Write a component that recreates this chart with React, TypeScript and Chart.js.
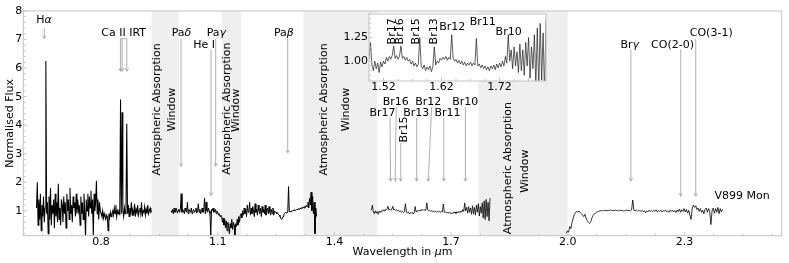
import React, { useEffect, useRef } from "react";
import { Chart, registerables } from "chart.js";
Chart.register(...registerables);

const FONT = "'DejaVu Sans', sans-serif";
const FRAME = "#c4c4c4";
const ARROW = "#a8a8a8";
const WINDOW_FILL = "#efefef";

// ---- Spectrum segments (start wavelength, sampling step, normalised flux) ----
const segAStart = 0.634;
const segAStep = 0.002;
const segAFlux = [
  1.1, 2.0, 0.5, 1.4, 0.7, 1.6, 0.3, 1.2, 0.8, 1.5, 0.6, 1.1,
  6.25,
  0.9, 1.3, 0.2, 1.5, 0.7, 1.8, 0.5, 1.2, 0.9, 1.4, 0.4, 1.6, 0.8, 1.3, 0.6, 1.95, 0.7, 1.1, 0.5, 1.4,
  1.2, 0.6, 1.5, 0.9, 1.3, 0.4, 1.6, 1.0, 1.4, 0.7, 1.8, 0.9, 1.2, 0.6, 1.5, 1.1, 1.3, 0.8, 1.6, 0.9,
  1.4, 1.0, 1.2, 0.5, 1.5, 0.9, 1.3, 0.7, 1.6, 1.0,
  0.05, 1.4, 1.0, 1.6, 0.8, 1.5, 1.1, 1.7, 0.9, 1.4, 0.1, 1.6, 1.0, 1.3, 2.05, 0.9, 1.4, 0.7, 1.3, 1.0,
  0.9, 0.8, 1.0, 0.75, 0.9, 0.8, 0.7, 0.85, 0.8, 0.3, 0.9, 0.75, 0.95, 0.8, 0.9,
  1.0, 0.85, 1.1, 0.9, 1.2, 0.8, 1.0, 0.9, 1.05, 0.85,
  4.9, 0.9, 4.45, 1.0, 0.8, 1.1, 0.9, 1.0, 4.05,
  0.9, 1.2, 0.8, 1.1, 0.95, 1.3, 0.85, 1.0, 0.9, 1.25, 0.8, 1.05, 0.95, 1.2, 0.85, 1.0,
  1.1, 0.9, 1.3, 0.8, 1.0, 0.95, 1.15, 0.85, 1.05, 0.9, 1.2, 0.9, 1.0, 1.1, 0.95, 1.0,
];

const segBStart = 0.98;
const segBStep = 0.002;
const segBFlux = [
  1.0, 0.95, 1.05, 0.9, 1.1, 0.95, 1.0, 1.08, 0.92, 1.0,
  1.05, 0.95, 1.1,
  1.6,
  0.95, 1.05, 1.0, 0.9, 1.1, 1.0, 0.95, 1.3, 0.9, 1.05, 1.0, 0.95, 1.1, 0.9, 1.0, 1.05, 0.95, 1.0, 1.1, 0.92,
  1.0, 1.25, 0.95, 1.05, 0.9, 1.0, 1.1, 0.95, 1.0, 1.45, 0.9, 1.3, 1.0, 0.95, 1.1, 1.0, 0.9,
  0.15,
  1.05, 1.0, 1.1, 0.95, 1.0, 1.05, 0.9, 1.0, 0.95, 0.85, 0.9, 0.8, 0.85,
  0.8, 0.6, 0.75, 0.5, 0.7, 0.4, 0.65, 0.3, 0.6, 0.45, 0.2, 0.55, 0.4, 0.7, 0.35, 0.6, 0.5, 0.15, 0.55, 0.45,
  0.7, 0.5, 0.8, 0.6, 0.85,
  0.9, 0.75, 1.0, 0.85, 1.1, 0.9, 1.05, 0.8, 1.2, 0.95, 1.0, 1.3, 0.85, 1.1, 0.9, 1.15, 1.0, 0.8, 1.25, 0.95,
  1.05, 0.85, 1.2, 1.0, 0.9, 1.1, 0.8, 1.15, 0.95, 1.05, 0.9, 1.2, 0.85, 1.0, 1.1, 0.9, 1.15, 0.95, 0.85, 1.05,
  0.9, 1.1, 0.85, 1.0, 0.95,
  0.95, 0.9, 0.92, 0.88, 0.85, 0.8, 0.75,
  0.7, 0.72, 0.8, 0.88, 0.92, 0.95, 0.93, 0.96, 0.95,
  1.85,
  0.97, 0.98, 0.96, 1.0, 0.99, 1.02, 1.0, 1.04, 1.01, 1.03, 1.06, 1.04, 1.08, 1.05, 1.1, 1.07, 1.12, 1.09,
  1.14, 1.1, 1.16, 1.12, 1.2, 1.15,
  1.3, 1.1, 1.45, 1.2, 1.65, 1.0, 1.5, 0.9, 1.3, 0.2, 1.1, 0.8,
];

const segCStart = 1.495;
const segCStep = 0.0025;
const segCFlux = [
  1.02, 1.2, 0.96, 0.9, 1.0, 0.92, 0.98, 0.88, 0.99, 0.94,
  1.0, 0.97, 1.04, 1.0, 1.05, 1.02, 1.06, 1.16, 1.03, 1.06,
  1.02, 1.05, 1.16, 1.03, 1.05, 1.01, 1.04, 1.0, 1.02, 0.97,
  1.0, 0.95, 0.98, 0.94, 0.97, 1.25, 0.95, 0.92, 0.96, 0.9,
  0.94, 0.91, 0.95, 0.89, 0.94, 1.15, 0.96, 1.0, 0.98, 1.03,
  1.01, 1.04, 1.02, 1.05, 1.01, 1.04, 1.02, 1.28, 1.03, 1.0,
  1.02, 0.98, 1.01, 0.97, 1.0, 0.96, 0.99, 0.95, 0.98, 0.96,
  0.99, 0.95, 0.98, 0.96, 1.24, 0.95, 0.97, 0.93, 0.96, 0.92,
  0.95, 0.91, 0.94, 0.9, 0.95, 0.92, 0.96, 0.91, 0.97, 0.93,
  0.98, 0.94, 1.0, 0.95, 1.05, 0.98, 1.28, 1.0, 1.12, 0.92,
  1.15, 0.95, 1.1, 0.88, 1.18, 0.9, 1.12, 0.85, 1.2, 0.95,
  1.25, 0.82, 1.15, 0.92, 1.28, 0.75, 1.35, 0.7, 1.4, 0.8,
  1.3, 0.65, 1.45,
];

const segDStart = 1.996;
const segDStep = 0.003;
const segDFlux = [
  0.22, 0.3, 0.25, 0.45, 0.38, 0.6, 0.75, 0.88, 0.95, 0.98,
  0.96, 0.99, 0.95, 0.9, 0.85, 0.8, 0.88, 0.75, 0.65, 0.6,
  0.56, 0.62, 0.75, 0.84, 0.9, 0.92, 0.95, 0.97, 0.99, 1.0,
  1.01, 1.0, 1.02, 1.01, 1.02, 1.0, 1.02, 1.01, 1.03, 1.01,
  1.02, 1.0, 1.03, 1.01, 1.02, 1.0, 1.03, 1.01, 1.02, 0.99,
  1.02, 1.0, 1.03, 1.01, 1.02, 1.0, 1.03, 1.38, 1.02, 1.0,
  1.03, 0.99, 1.02, 1.0, 0.98, 1.02, 0.97, 1.01, 0.93, 1.0,
  0.96, 1.02, 0.98, 1.01, 0.97, 1.02, 0.99, 1.03, 0.97, 1.01,
  0.98, 1.02, 0.96, 1.01, 0.99, 1.03, 0.97, 1.0, 0.95, 1.02,
  0.98, 1.03, 0.96, 1.01, 0.94, 1.03, 0.97, 1.06, 0.95, 1.04,
  0.98, 1.08, 0.96, 1.05, 0.92, 1.02, 0.85, 0.7, 1.1, 1.2,
  1.12, 1.18, 1.05, 1.1, 0.98, 1.08, 0.95, 1.02, 0.9, 1.05,
  1.1, 0.95, 1.08, 0.98, 0.52, 1.0, 1.1, 0.92, 1.08, 0.95,
  1.12, 0.9, 1.08, 0.96, 1.06,
];
const segWidths = [1.05, 1.0, 0.8, 0.8];

// ---- Axes ----
const xMin = 0.6, xMax = 2.55, yMin = 0.13, yMax = 8;
const xTicks = [0.8, 1.1, 1.4, 1.7, 2.0, 2.3];
const yTicks = [1, 2, 3, 4, 5, 6, 7, 8];
const insetXMin = 1.495, insetXMax = 1.8, insetYMin = 0.79, insetYMax = 1.5;
const insetXTicks = [1.52, 1.62, 1.72];
const insetYTicks = [1.0, 1.25];

// ---- Atmospheric absorption windows ----
const windowStart = [0.93, 1.11, 1.32, 1.77];
const windowEnd = [1.0, 1.16, 1.51, 2.0];
const windowLine1X = [0.945, 1.125, 1.3745, 1.8476];
const windowLine2X = [0.9825, 1.1485, 1.4305, 1.8915];
const windowLine1Y = [4.55, 4.58, 4.55, 2.5];
const windowLine2Y = [4.55, 4.52, 4.55, 2.39];

// ---- Line labels (main panel) ----
const labelText = ["H$α$", "Ca II IRT", "Pa$δ$", "He I", "Pa$γ$", "Pa$β$", "Br$γ$", "CO(2-0)", "CO(3-1)", "V899 Mon",
  "Br16", "Br17", "Br13", "Br12", "Br11", "Br10"];
const labelX = [0.6535, 0.858, 1.0067, 1.065, 1.0963, 1.2699, 2.1595, 2.2693, 2.3688, 2.448,
  1.5577, 1.5236, 1.6103, 1.6414, 1.6908, 1.7363];
const labelY = [7.59, 7.12, 7.12, 6.71, 7.12, 7.12, 6.71, 6.71, 7.12, 1.42,
  4.72, 4.315, 4.315, 4.72, 4.315, 4.72];
const rotLabelText = ["Br15"];
const rotLabelX = [1.5789];
const rotLabelY = [3.85];

// arrows: from (x0,y0) to tip (x1,y1)
const arrowX0 = [0.654, 0.8498, 0.8542, 0.8662, 1.0055, 1.0827, 1.0947, 1.2799, 2.1622, 2.2904, 2.329,
  1.543, 1.559, 1.5705, 1.6114, 1.65, 1.6811, 1.7367];
const arrowY0 = [7.41, 7.03, 7.03, 7.03, 7.03, 6.65, 7.03, 7.03, 6.65, 6.65, 7.03,
  4.26, 4.64, 3.38, 4.26, 4.64, 4.26, 4.64];
const arrowX1 = [0.654, 0.8498, 0.8542, 0.8662, 1.0055, 1.0827, 1.0947, 1.2799, 2.1622, 2.2904, 2.329,
  1.5443, 1.5561, 1.5705, 1.6114, 1.6412, 1.6811, 1.7367];
const arrowY1 = [7.03, 5.89, 5.89, 5.89, 2.56, 1.54, 2.56, 3.03, 2.04, 1.51, 1.51,
  2.04, 2.04, 2.04, 2.04, 2.04, 2.04, 2.04];

// ---- Inset labels ----
const insetRotText = ["Br17", "Br16", "Br15", "Br13"];
const insetRotX = [1.5344, 1.549, 1.577, 1.608];
const insetRotY = [1.316, 1.316, 1.316, 1.316];
const insetText = ["Br12", "Br11", "Br10"];
const insetTextX = [1.6383, 1.691, 1.7356];
const insetTextY = [1.334, 1.38, 1.274];

function toPoints(start: number, step: number, flux: number[]) {
  return flux.map((y, i) => ({ x: +(start + i * step).toFixed(5), y }));
}

function drawRich(ctx: CanvasRenderingContext2D, text: string, x: number, y: number,
  align: "left" | "center" | "right", baseline: CanvasTextBaseline, rotate = 0, size = 11) {
  const parts = text.split("$").map((t, i) => ({ t, it: i % 2 === 1 })).filter((p) => p.t.length);
  const fontOf = (it: boolean) => `${it ? "italic " : ""}${size}px ${FONT}`;
  const widths = parts.map((p) => { ctx.font = fontOf(p.it); return ctx.measureText(p.t).width; });
  const total = widths.reduce((a, b) => a + b, 0);
  ctx.save();
  ctx.translate(x, y);
  if (rotate) ctx.rotate(rotate);
  let cx = align === "center" ? -total / 2 : align === "right" ? -total : 0;
  ctx.textBaseline = baseline;
  ctx.textAlign = "left";
  ctx.fillStyle = "#000";
  parts.forEach((p, i) => { ctx.font = fontOf(p.it); ctx.fillText(p.t, cx, 0); cx += widths[i]; });
  ctx.restore();
}

function drawArrow(ctx: CanvasRenderingContext2D, x0: number, y0: number, x1: number, y1: number) {
  ctx.save();
  ctx.strokeStyle = ARROW;
  ctx.lineWidth = 0.9;
  ctx.beginPath();
  ctx.moveTo(x0, y0);
  ctx.lineTo(x1, y1);
  const ang = Math.atan2(y1 - y0, x1 - x0);
  const L = 3.5, spread = 0.5;
  ctx.moveTo(x1 - L * Math.cos(ang - spread), y1 - L * Math.sin(ang - spread));
  ctx.lineTo(x1, y1);
  ctx.lineTo(x1 - L * Math.cos(ang + spread), y1 - L * Math.sin(ang + spread));
  ctx.stroke();
  ctx.restore();
}

function drawFrameTicks(chart: any, xMinorStep: number, xAnchor: number, yMinorStep: number, yAnchor: number,
  xMajors: number[], yMajors: number[]) {
  const { ctx, chartArea: a, scales } = chart;
  const xs = scales.x, ys = scales.y;
  ctx.save();
  ctx.strokeStyle = FRAME;
  ctx.lineWidth = 1;
  ctx.strokeRect(a.left, a.top, a.right - a.left, a.bottom - a.top);
  ctx.beginPath();
  const xlo = xs.min, xhi = xs.max;
  for (let k = Math.ceil((xlo - xAnchor) / xMinorStep); xAnchor + k * xMinorStep <= xhi + 1e-9; k++) {
    const v = xAnchor + k * xMinorStep;
    const isMajor = xMajors.some((m) => Math.abs(m - v) < 1e-6);
    const px = xs.getPixelForValue(v);
    ctx.moveTo(px, a.bottom);
    ctx.lineTo(px, a.bottom - (isMajor ? 3.5 : 2.2));
  }
  const ylo = ys.min, yhi = ys.max;
  for (let k = Math.ceil((ylo - yAnchor) / yMinorStep); yAnchor + k * yMinorStep <= yhi + 1e-9; k++) {
    const v = yAnchor + k * yMinorStep;
    const isMajor = yMajors.some((m) => Math.abs(m - v) < 1e-6);
    const py = ys.getPixelForValue(v);
    ctx.moveTo(a.left, py);
    ctx.lineTo(a.left + (isMajor ? 3.5 : 2.2), py);
  }
  ctx.stroke();
  ctx.restore();
}

const tickFont = { family: FONT, size: 11 };

const mainPlugin = {
  id: "mainDecor",
  beforeDatasetsDraw(chart: any) {
    const { ctx, chartArea: a, scales: { x } } = chart;
    ctx.save();
    ctx.fillStyle = WINDOW_FILL;
    windowStart.forEach((s, i) => {
      const l = x.getPixelForValue(s), r = x.getPixelForValue(windowEnd[i]);
      ctx.fillRect(l, a.top, r - l, a.bottom - a.top);
    });
    ctx.restore();
  },
  afterDatasetsDraw(chart: any) {
    const { ctx, scales: { x, y } } = chart;
    drawFrameTicks(chart, 0.075, 0.8, 0.2, 1, xTicks, yTicks);
    windowStart.forEach((_, i) => {
      drawRich(ctx, "Atmospheric Absorption", x.getPixelForValue(windowLine1X[i]), y.getPixelForValue(windowLine1Y[i]), "center", "middle", -Math.PI / 2);
      drawRich(ctx, "Window", x.getPixelForValue(windowLine2X[i]), y.getPixelForValue(windowLine2Y[i]), "center", "middle", -Math.PI / 2);
    });
    arrowX0.forEach((_, i) => {
      drawArrow(ctx, x.getPixelForValue(arrowX0[i]), y.getPixelForValue(arrowY0[i]), x.getPixelForValue(arrowX1[i]), y.getPixelForValue(arrowY1[i]));
    });
    ctx.save();
    ctx.strokeStyle = ARROW;
    ctx.lineWidth = 0.9;
    ctx.beginPath();
    ctx.moveTo(x.getPixelForValue(arrowX0[1]), y.getPixelForValue(arrowY0[1]));
    ctx.lineTo(x.getPixelForValue(arrowX0[3]), y.getPixelForValue(arrowY0[3]));
    ctx.stroke();
    ctx.restore();
    labelText.forEach((t, i) => {
      drawRich(ctx, t, x.getPixelForValue(labelX[i]), y.getPixelForValue(labelY[i]), "center", "alphabetic");
    });
    rotLabelText.forEach((t, i) => {
      drawRich(ctx, t, x.getPixelForValue(rotLabelX[i]), y.getPixelForValue(rotLabelY[i]), "center", "middle", -Math.PI / 2);
    });
  },
  afterDraw(chart: any) {
    const { ctx, chartArea: a } = chart;
    drawRich(ctx, "Normalised Flux", 10.6, (a.top + a.bottom) / 2, "center", "middle", -Math.PI / 2);
    drawRich(ctx, "Wavelength in $μ$m", (a.left + a.right) / 2, 252.4, "center", "middle");
  },
};

const insetPlugin = {
  id: "insetDecor",
  beforeDatasetsDraw(chart: any) {
    const { ctx, chartArea: a } = chart;
    ctx.save();
    ctx.fillStyle = "#fff";
    ctx.fillRect(a.left, a.top, a.right - a.left, a.bottom - a.top);
    ctx.restore();
  },
  afterDatasetsDraw(chart: any) {
    const { ctx, scales: { x, y } } = chart;
    drawFrameTicks(chart, 0.025, 1.52, 0.05, 1.0, insetXTicks, insetYTicks);
    insetRotText.forEach((t, i) => {
      drawRich(ctx, t, x.getPixelForValue(insetRotX[i]), y.getPixelForValue(insetRotY[i]), "center", "middle", -Math.PI / 2);
    });
    insetText.forEach((t, i) => {
      drawRich(ctx, t, x.getPixelForValue(insetTextX[i]), y.getPixelForValue(insetTextY[i]), "center", "alphabetic");
    });
  },
};

export default function App() {
  const mainRef = useRef<HTMLCanvasElement>(null);
  const insetRef = useRef<HTMLCanvasElement>(null);

  useEffect(() => {
    const segs = [
      toPoints(segAStart, segAStep, segAFlux),
      toPoints(segBStart, segBStep, segBFlux),
      toPoints(segCStart, segCStep, segCFlux),
      toPoints(segDStart, segDStep, segDFlux),
    ];
    const main = new Chart(mainRef.current!, {
      type: "scatter",
      data: {
        datasets: segs.map((d, i) => ({
          data: d, showLine: true, borderColor: "#000", borderWidth: segWidths[i],
          pointRadius: 0, pointHoverRadius: 0, fill: false, tension: 0,
        })),
      },
      options: {
        animation: false, responsive: false, maintainAspectRatio: false,
        events: [],
        layout: { padding: { top: 11, right: 7.3, left: 0, bottom: 0 } },
        plugins: { legend: { display: false }, tooltip: { enabled: false } },
        scales: {
          x: {
            type: "linear", min: xMin, max: xMax,
            grid: { display: false, drawTicks: false }, border: { display: false },
            ticks: { font: tickFont, color: "#000", padding: 0, maxRotation: 0, autoSkip: false,
              callback: (v: any) => Number(v).toFixed(1) },
            afterBuildTicks: (s: any) => { s.ticks = xTicks.map((v) => ({ value: v })); },
            afterFit: (s: any) => { s.height = 27.3; },
          },
          y: {
            type: "linear", min: yMin, max: yMax,
            grid: { display: false, drawTicks: false }, border: { display: false },
            ticks: { font: tickFont, color: "#000", padding: 1, autoSkip: false,
              callback: (v: any) => String(v) },
            afterBuildTicks: (s: any) => { s.ticks = yTicks.map((v) => ({ value: v })); },
            afterFit: (s: any) => { s.width = 23.3; },
          },
        },
      },
      plugins: [mainPlugin],
    } as any);

    const inset = new Chart(insetRef.current!, {
      type: "scatter",
      data: {
        datasets: [{
          data: toPoints(segCStart, segCStep, segCFlux), showLine: true, borderColor: "#1a1a1a",
          borderWidth: 0.7, pointRadius: 0, pointHoverRadius: 0, fill: false, tension: 0,
        }],
      },
      options: {
        animation: false, responsive: false, maintainAspectRatio: false,
        events: [],
        layout: { padding: { top: 9, right: 6, left: 0, bottom: 0 } },
        plugins: { legend: { display: false }, tooltip: { enabled: false } },
        scales: {
          x: {
            type: "linear", min: insetXMin, max: insetXMax,
            grid: { display: false, drawTicks: false }, border: { display: false },
            ticks: { font: tickFont, color: "#000", padding: 0, maxRotation: 0, autoSkip: false,
              callback: (v: any) => Number(v).toFixed(2) },
            afterBuildTicks: (s: any) => { s.ticks = insetXTicks.map((v) => ({ value: v })); },
            afterFit: (s: any) => { s.height = 19; },
          },
          y: {
            type: "linear", min: insetYMin, max: insetYMax,
            grid: { display: false, drawTicks: false }, border: { display: false },
            ticks: { font: tickFont, color: "#000", padding: 1, autoSkip: false,
              callback: (v: any) => Number(v).toFixed(2) },
            afterBuildTicks: (s: any) => { s.ticks = insetYTicks.map((v) => ({ value: v })); },
            afterFit: (s: any) => { s.width = 39; },
          },
        },
      },
      plugins: [insetPlugin],
    } as any);

    return () => { main.destroy(); inset.destroy(); };
  }, []);

  return (
    <div style={{ position: "fixed", left: 0, top: 0, width: 789, height: 263, background: "#fff" }}>
      <canvas ref={mainRef} width={789} height={263} style={{ position: "absolute", left: 0, top: 0, width: 789, height: 263 }} />
      <canvas ref={insetRef} width={222} height={95} style={{ position: "absolute", left: 330, top: 5, width: 222, height: 95 }} />
    </div>
  );
}
